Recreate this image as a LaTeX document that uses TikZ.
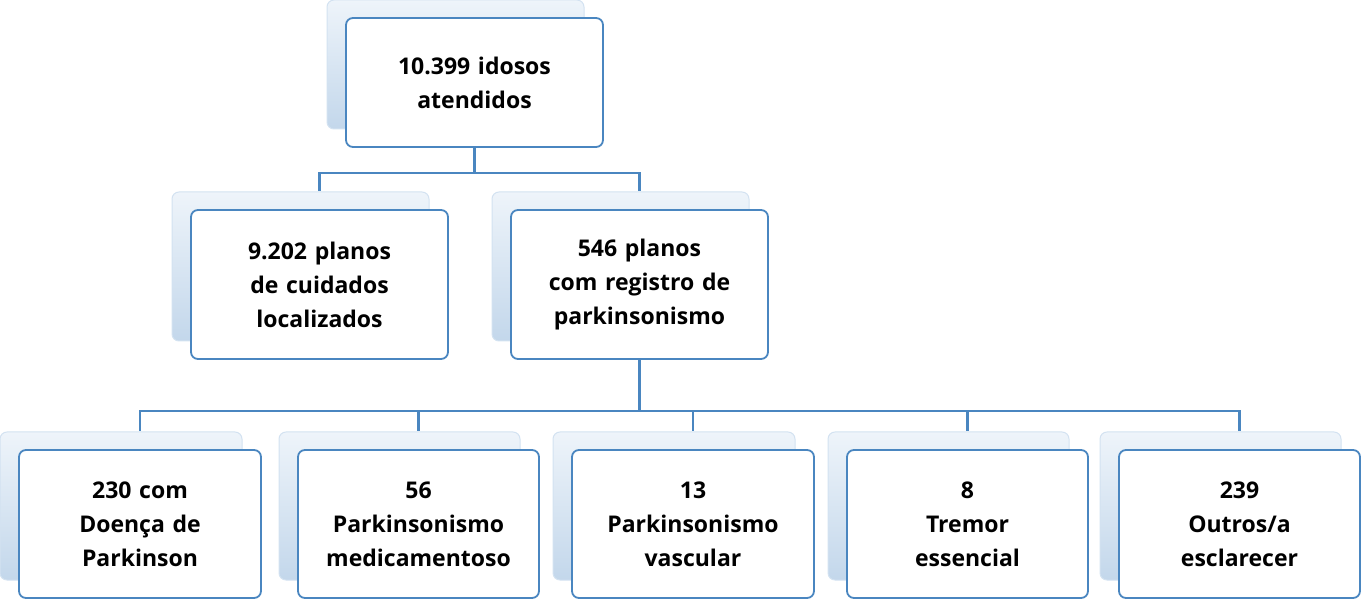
\documentclass[tikz,border=0pt]{standalone}
\usepackage{fontspec}
\setmainfont{Open Sans}
\usetikzlibrary{positioning,calc}
\definecolor{edge}{HTML}{4A86C0}
\definecolor{shtop}{HTML}{EEF4FA}
\definecolor{shbot}{HTML}{C3D7EB}
\definecolor{shdraw}{HTML}{D3E2F1}
\tikzset{
 frontbox/.style={draw=edge,line width=1.8pt,fill=white,rounded corners=7pt,align=center,font=\fontsize{23}{34}\selectfont\bfseries,inner sep=0pt},
 backbox/.style={draw=shdraw,line width=1pt,top color=shtop,bottom color=shbot,rounded corners=7pt,inner sep=0pt},
 conn/.style={draw=edge,line width=2.2pt}
}
\newcommand{\boxpair}[6]{% name, x1,y1,x2,y2, text
 \node[backbox,minimum width={#4-#2},minimum height={#5-#3}] (#1b) at ({(#2+#4)/2-19},{(#3+#5)/2-18}) {};
 \node[frontbox,minimum width={#4-#2},minimum height={#5-#3},text width={#4-#2-10}] (#1) at ({(#2+#4)/2},{(#3+#5)/2}) {#6};
}
\begin{document}
\begin{tikzpicture}[x=1pt,y=-1pt]
\useasboundingbox (0,0) rectangle (1363,601);
\boxpair{top}{346}{18}{603}{147}{10.399 idosos\\atendidos}
\boxpair{a}{191}{210}{448}{359}{9.202 planos\\de cuidados\\localizados}
\boxpair{b}{511}{210}{768}{359}{546 planos\\com registro de\\parkinsonismo}
\boxpair{c1}{19}{450}{261}{598}{230 com\\Doença de\\Parkinson}
\boxpair{c2}{298}{450}{539}{598}{56\\Parkinsonismo\\medicamentoso}
\boxpair{c3}{572}{450}{814}{598}{13\\Parkinsonismo\\vascular}
\boxpair{c4}{847}{450}{1088}{598}{8\\Tremor\\essencial}
\boxpair{c5}{1119}{450}{1360}{598}{239\\Outros/a\\esclarecer}
\coordinate (j1) at ($(top.south)+(0,25)$);
\draw[conn] (top.south) -- (j1);
\foreach \n in {a,b} \draw[conn] (j1) -| (\n.north |- \n b.north);
\coordinate (j2) at ($(b.south)+(0,51)$);
\draw[conn] (b.south) -- (j2);
\foreach \n in {c1,c2,c3,c4,c5} \draw[conn] (j2) -| (\n.north |- \n b.north);
\end{tikzpicture}
\end{document}
